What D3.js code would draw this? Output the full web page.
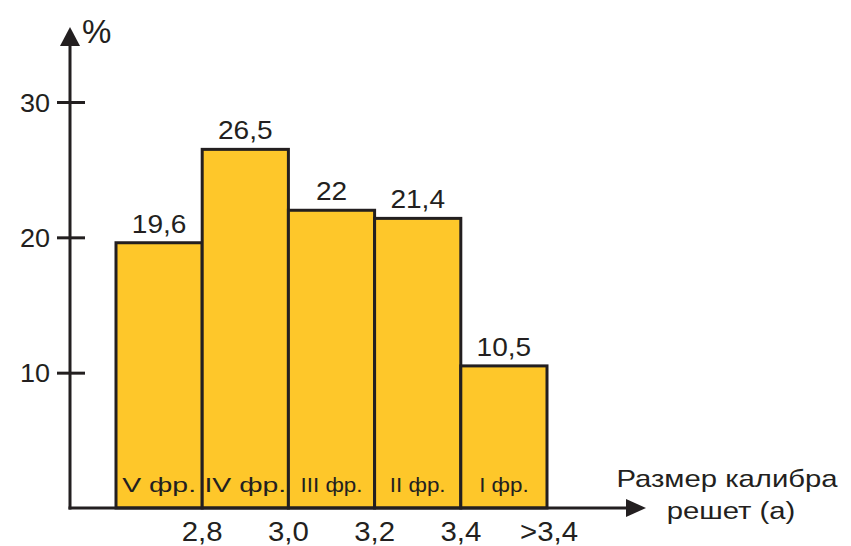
<!DOCTYPE html>
<html>
<head>
<meta charset="utf-8">
<script src="https://cdn.jsdelivr.net/npm/d3@7"></script>
<style>
  body { margin: 0; background: #fff; }
  text { font-family: "Liberation Sans", Arial, sans-serif; fill: #231f20; }
</style>
</head>
<body>
<svg width="851" height="546"></svg>
<script>
// данные гистограммы
const fractions = ['V фр.', 'IV фр.', 'III фр.', 'II фр.', 'I фр.'];
const values = [19.6, 26.5, 22, 21.4, 10.5];
const valueLabels = ['19,6', '26,5', '22', '21,4', '10,5'];
const edgeLabels = ['2,8', '3,0', '3,2', '3,4', '>3,4'];
const yTicks = [10, 20, 30];

let svg = d3.select('svg');
let ink = '#231f20';

let x = d3.scaleLinear().domain([0, 5]).range([116, 547]);
let y = d3.scaleLinear().domain([0, 30]).range([508, 102]);

let x0 = 70, y0 = y(0);

// растянутый по горизонтали текст, как в оригинале
function stretched(sel, cx, cy, sx) {
    return sel.attr('x', 0).attr('y', 0)
        .attr('transform', (d, i) => `translate(${cx(d, i)},${cy(d, i)}) scale(${typeof sx === 'function' ? sx(d, i) : sx},1)`);
}

//столбцы
let bars = svg.append('g').attr('class', 'bars');
bars.selectAll('rect')
    .data(values)
    .enter()
    .append('rect')
    .attr('x', (d, i) => x(i))
    .attr('y', d => y(d))
    .attr('width', (d, i) => x(i + 1) - x(i))
    .attr('height', d => y0 - y(d))
    .attr('fill', '#fec72a')
    .attr('stroke', ink)
    .attr('stroke-width', 3);

//подписи значений
stretched(bars.selectAll('.val')
    .data(values)
    .enter()
    .append('text')
    .attr('class', 'val')
    .attr('text-anchor', 'middle')
    .attr('font-size', 26)
    .text((d, i) => valueLabels[i]),
    (d, i) => (x(i) + x(i + 1)) / 2, d => y(d) - 10, 1.08);

//фракции внутри столбцов
stretched(bars.selectAll('.frac')
    .data(fractions)
    .enter()
    .append('text')
    .attr('class', 'frac')
    .attr('text-anchor', 'middle')
    .attr('font-size', 20)
    .text(d => d),
    (d, i) => (x(i) + x(i + 1)) / 2, () => y0 - 16, d => d.includes('V') ? 1.42 : 1.12);

//ось Y
let yAxis = svg.append('g')
    .attr('transform', `translate(${x0},0)`)
    .call(d3.axisLeft(y).tickValues(yTicks).tickSize(13).tickFormat(d3.format('d')));
yAxis.select('.domain').remove();
yAxis.selectAll('.tick line')
    .attr('x2', -13).attr('x1', 15)
    .attr('stroke', ink).attr('stroke-width', 3);
yAxis.selectAll('.tick text')
    .attr('x', 0).attr('dy', null)
    .attr('transform', 'translate(-20,9) scale(1.08,1)')
    .attr('font-size', 25)
    .attr('font-family', '"Liberation Sans", Arial, sans-serif')
    .attr('fill', ink);

svg.append('line')
    .attr('x1', x0).attr('y1', y0 + 1.5)
    .attr('x2', x0).attr('y2', 40)
    .attr('stroke', ink).attr('stroke-width', 3);
svg.append('path')
    .attr('d', `M${x0 - 10},${46} L${x0},${27} L${x0 + 10},${46} Z`)
    .attr('fill', ink);
svg.append('text')
    .attr('x', 82).attr('y', 43)
    .attr('font-size', 33)
    .text('%');

//ось X
svg.append('line')
    .attr('x1', x0 - 1.5).attr('y1', y0)
    .attr('x2', 630).attr('y2', y0)
    .attr('stroke', ink).attr('stroke-width', 3);
svg.append('path')
    .attr('d', `M${626},${y0 - 9} L${646},${y0} L${626},${y0 + 9} Z`)
    .attr('fill', ink);

stretched(svg.append('g')
    .selectAll('text')
    .data(edgeLabels)
    .enter()
    .append('text')
    .attr('text-anchor', 'middle')
    .attr('font-size', 28)
    .text(d => d),
    (d, i) => x(i + 1) + (i === 4 ? 2 : 0), () => 541, 1.05);

svg.append('text')
    .attr('text-anchor', 'middle')
    .attr('font-size', 24)
    .attr('transform', 'translate(727,487) scale(1.22,1)')
    .text('Размер калибра');
svg.append('text')
    .attr('text-anchor', 'middle')
    .attr('font-size', 24)
    .attr('transform', 'translate(731,519) scale(1.22,1)')
    .text('решет (а)');
</script>
</body>
</html>
